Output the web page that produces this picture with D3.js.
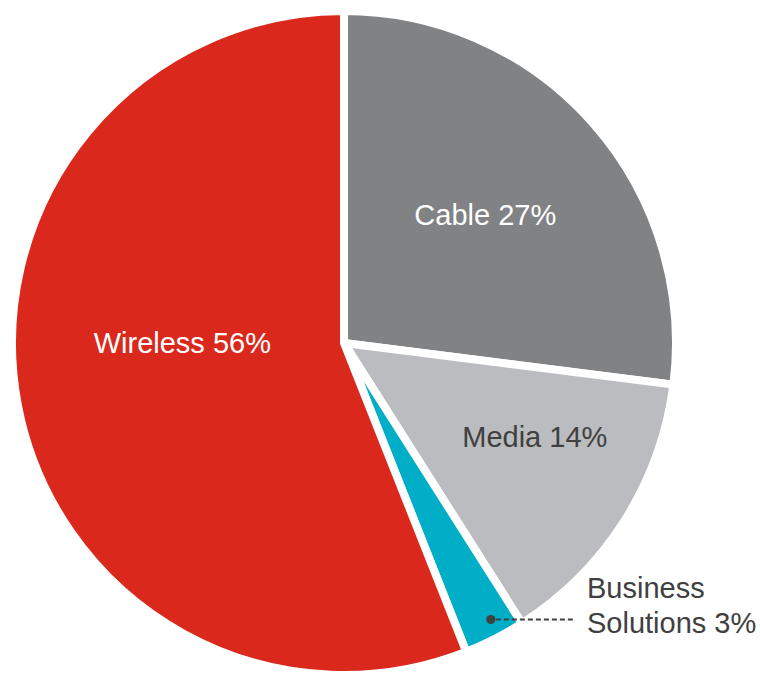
<!DOCTYPE html>
<html>
<head>
<meta charset="utf-8">
<script src="https://cdn.jsdelivr.net/npm/d3@7"></script>
<style>
  html, body { margin: 0; padding: 0; background: #fff; }
  svg { display: block; }
  text { font-family: "Liberation Sans", Arial, sans-serif; }
</style>
</head>
<body>
<svg id="chart" width="761" height="673"></svg>
<script>
// Revenue mix by segment, clockwise from 12 o'clock
const segments = ["Cable", "Media", "Business Solutions", "Wireless"];
const shares = [27, 14, 3, 56];
const labelLines = [["Cable 27%"], ["Media 14%"], ["Business", "Solutions 3%"], ["Wireless 56%"]];

const colors = ["#818284", "#bbbcbf", "#00aec7", "#da291c"];
const textColors = ["#ffffff", "#404040", "#404040", "#ffffff"];

const width = 761, height = 673;
const cx = 344, cy = 343, radius = 332;

const svg = d3.select("#chart");
const g = svg.append("g").attr("transform", `translate(${cx},${cy})`);

const pie = d3.pie().sort(null).value(d => d.value);
const arcs = pie(segments.map((name, i) => ({ name, value: shares[i], i })));

const arc = d3.arc().innerRadius(0).outerRadius(radius);

g.selectAll("path.slice")
  .data(arcs)
  .join("path")
  .attr("class", "slice")
  .attr("d", arc)
  .attr("fill", d => colors[d.data.i])
  .attr("stroke", "#fff")
  .attr("stroke-width", 8)
  .attr("stroke-linejoin", "miter");

// polar helper (angle measured clockwise from 12 o'clock)
const polar = (a, r) => [r * Math.sin(a), -r * Math.cos(a)];

// in-slice labels: radius factor and angle offset from each slice's mid angle
const inside = [
  { idx: 0, rf: 0.575, da: -0.015 },
  { idx: 1, rf: 0.64, da: -0.11 },
  { idx: 3, rf: 0.487, da: 0.193 }
];

inside.forEach(({ idx, rf, da }) => {
  const d = arcs[idx];
  const mid = (d.startAngle + d.endAngle) / 2 + da;
  const [x, y] = polar(mid, radius * rf);
  g.append("text")
    .attr("x", x)
    .attr("y", y)
    .attr("dy", "0.36em")
    .attr("text-anchor", "middle")
    .attr("font-size", 29)
    .attr("fill", textColors[idx])
    .text(labelLines[idx][0]);
});

// callout for the small Business Solutions slice
const bs = arcs[2];
const dotAngle = bs.startAngle + (bs.endAngle - bs.startAngle) * 0.41;
const [dx, dy] = polar(dotAngle, radius * 0.943);
const textX = 587 - cx;

g.append("line")
  .attr("x1", dx + 5).attr("y1", dy)
  .attr("x2", 574 - cx).attr("y2", dy)
  .attr("stroke", "#404040")
  .attr("stroke-width", 2)
  .attr("stroke-dasharray", "5,3");

g.append("circle")
  .attr("cx", dx).attr("cy", dy)
  .attr("r", 4.6)
  .attr("fill", "#404040");

const bsText = g.append("text")
  .attr("x", textX)
  .attr("y", dy - 22)
  .attr("font-size", 29)
  .attr("fill", textColors[2]);

labelLines[2].forEach((line, k) => {
  bsText.append("tspan")
    .attr("x", textX)
    .attr("dy", k === 0 ? 0 : 35)
    .text(line);
});
</script>
</body>
</html>
